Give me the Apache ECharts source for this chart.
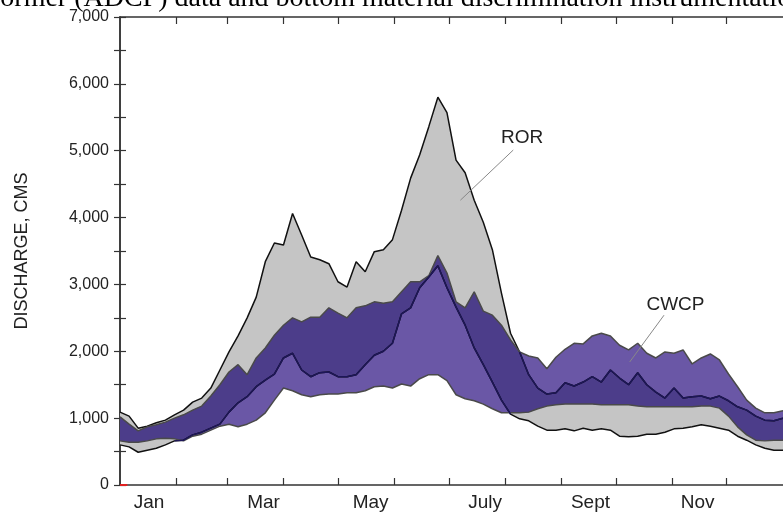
<!DOCTYPE html>
<html>
<head>
<meta charset="utf-8">
<script src="https://cdn.jsdelivr.net/npm/echarts@6/dist/echarts.min.js"></script>
<style>
  html, body { margin: 0; padding: 0; background: #fff; }
  #chart { width: 783px; height: 516px; }
</style>
</head>
<body>
<div id="chart"></div>
<script>
// day of year, every 5 days
const days = [0, 5, 10, 15, 20, 25, 30, 35, 40, 45, 50, 55, 60, 65, 70, 75, 80, 85, 90, 95,
  100, 105, 110, 115, 120, 125, 130, 135, 140, 145, 150, 155, 160, 165, 170, 175, 180, 185, 190, 195,
  200, 205, 210, 215, 220, 225, 230, 235, 240, 245, 250, 255, 260, 265, 270, 275, 280, 285, 290, 295,
  300, 305, 310, 315, 320, 325, 330, 335, 340, 345, 350, 355, 360, 365]

// ROR envelope (cms)
const rorUpper = [1090, 1030, 850, 880, 930, 970, 1050, 1120, 1240, 1300, 1450, 1720, 1990, 2230, 2500, 2810, 3340, 3620, 3590, 4060,
  3740, 3410, 3370, 3310, 3040, 2960, 3340, 3190, 3490, 3520, 3670, 4110, 4590, 4940, 5360, 5800, 5570, 4860, 4670, 4260,
  3930, 3520, 2870, 2270, 1990, 1650, 1450, 1360, 1380, 1530, 1480, 1540, 1620, 1540, 1720, 1600, 1500, 1680, 1500, 1390,
  1300, 1450, 1300, 1320, 1330, 1290, 1330, 1260, 1170, 1120, 1030, 970, 960, 1000]
const rorLower = [600, 570, 490, 520, 550, 600, 660, 670, 750, 790, 850, 910, 1090, 1230, 1320, 1470, 1570, 1660, 1900, 1970,
  1720, 1620, 1680, 1690, 1620, 1620, 1650, 1800, 1940, 2000, 2120, 2560, 2650, 2950, 3110, 3280, 2950, 2660, 2390, 2050,
  1800, 1540, 1270, 1060, 990, 960, 880, 820, 820, 840, 810, 850, 820, 840, 820, 730, 720, 730, 760, 760,
  790, 840, 850, 870, 900, 880, 850, 820, 730, 670, 600, 550, 520, 520]

// CWCP envelope (cms)
const cwcpUpper = [1020, 910, 810, 870, 900, 940, 1000, 1050, 1120, 1180, 1330, 1500, 1690, 1800, 1650, 1900, 2050, 2240, 2390, 2500,
  2440, 2510, 2510, 2650, 2570, 2500, 2650, 2680, 2740, 2720, 2740, 2890, 3040, 3040, 3130, 3430, 3170, 2740, 2650, 2890,
  2600, 2540, 2390, 2170, 1990, 1930, 1900, 1740, 1910, 2030, 2120, 2110, 2230, 2270, 2230, 2090, 2020, 2120, 1970, 1900,
  1990, 1970, 2020, 1810, 1900, 1960, 1870, 1660, 1470, 1270, 1150, 1080, 1080, 1110]
const cwcpLower = [660, 640, 640, 660, 690, 700, 690, 660, 730, 760, 820, 880, 910, 870, 910, 970, 1080, 1270, 1450, 1410,
  1350, 1320, 1350, 1360, 1360, 1380, 1380, 1410, 1470, 1480, 1450, 1510, 1480, 1590, 1650, 1650, 1560, 1350, 1290, 1260,
  1210, 1140, 1080, 1080, 1080, 1090, 1140, 1180, 1200, 1210, 1210, 1210, 1210, 1200, 1200, 1200, 1200, 1180, 1170, 1170,
  1170, 1170, 1170, 1170, 1180, 1180, 1150, 1030, 870, 750, 670, 660, 670, 670]

const monthStarts = [31, 59, 90, 120, 151, 181, 212, 243, 273, 304, 334]
const monthLabels = ['Jan', 'Mar', 'May', 'July', 'Sept', 'Nov']
const monthLabelDays = [16, 79, 138, 201, 259, 318]

const GRAY = '#c5c5c5'
const PURPLE = '#6a57a6'
const PURPLE_DARK = '#4c3d8a'
const NAVY = '#1d1658'

// where the purple band covers the grey one
const overlapLow = rorLower.map((v, i) => Math.max(v, cwcpLower[i]))
const overlapHeight = overlapLow.map((v, i) => Math.max(0, Math.min(rorUpper[i], cwcpUpper[i]) - v))

// ROR lines seen through the purple band turn navy
const throughPurple = arr => {
  const ins = arr.map((v, i) => v > cwcpLower[i] && v < cwcpUpper[i])
  return arr.map((v, i) => (ins[i] || ins[i - 1] || ins[i + 1]) ? v : null)
}

const band = (name, lower, upper, color) => [
  {
    name: name + 'Base', type: 'line', stack: name, data: lower, xAxisIndex: 2,
    symbol: 'none', lineStyle: { opacity: 0 }, silent: true
  },
  {
    name: name, type: 'line', stack: name, data: upper.map((v, i) => v - lower[i]), xAxisIndex: 2,
    symbol: 'none', lineStyle: { opacity: 0 }, areaStyle: { color: color, opacity: 1 }, silent: true
  }
]

const line = (data, color, width) => ({
  type: 'line', data: data, xAxisIndex: 2, symbol: 'none', silent: true,
  lineStyle: { color: color, width: width }
})

const axisColor = '#333'
const chart = echarts.init(document.getElementById('chart'))
chart.setOption({
  animation: false,
  title: {
    text: 'former (ADCP) data and bottom material discrimination instrumentation',
    left: -9,
    top: -15,
    padding: 0,
    textStyle: { fontFamily: 'Liberation Serif', fontSize: 28, fontWeight: 'normal', color: '#000' }
  },
  grid: { left: 120, right: -3, top: 17, bottom: 31 },
  xAxis: [
    {
      type: 'value', min: 0, max: 365, position: 'bottom',
      axisLine: { onZero: false, lineStyle: { color: axisColor, width: 1.5 } },
      axisTick: { inside: true, length: 7, customValues: monthStarts, lineStyle: { color: axisColor, width: 1.2 } },
      axisLabel: {
        customValues: monthLabelDays,
        formatter: v => monthLabels[monthLabelDays.indexOf(v)] || '',
        fontFamily: 'Liberation Sans', fontSize: 19, color: '#222', margin: 8
      },
      splitLine: { show: false }
    },
    {
      type: 'value', min: 0, max: 365, position: 'top',
      axisLine: { onZero: false, lineStyle: { color: axisColor, width: 1.5 } },
      axisTick: { inside: true, length: 7, customValues: monthStarts, lineStyle: { color: axisColor, width: 1.2 } },
      axisLabel: { show: false },
      splitLine: { show: false }
    },
    { type: 'category', data: days, boundaryGap: false, show: false }
  ],
  yAxis: [
    {
      type: 'value', min: 0, max: 7000, interval: 500, position: 'left',
      name: 'DISCHARGE, CMS', nameLocation: 'middle', nameGap: 89,
      nameTextStyle: { fontFamily: 'Liberation Sans', fontSize: 18, color: '#222' },
      axisLine: { show: true, lineStyle: { color: axisColor, width: 1.5 } },
      axisTick: { inside: true, length: 6, lineStyle: { color: axisColor, width: 1.2 } },
      axisLabel: {
        formatter: v => v % 1000 === 0 ? v.toLocaleString('en-US') : '',
        fontFamily: 'Liberation Sans', fontSize: 16, color: '#222', margin: 11
      },
      splitLine: { show: false }
    },
    {
      type: 'value', min: 0, max: 7000, interval: 500, position: 'right',
      axisLine: { show: true, lineStyle: { color: axisColor, width: 1.5 } },
      axisTick: { inside: true, length: 6, lineStyle: { color: axisColor, width: 1.2 } },
      axisLabel: { show: false },
      splitLine: { show: false }
    }
  ],
  series: [
    ...band('ROR', rorLower, rorUpper, GRAY),
    line(rorUpper, '#111', 1.5),
    line(rorLower, '#111', 1.5),
    ...band('CWCP', cwcpLower, cwcpUpper, PURPLE),
    ...band('overlap', overlapLow, overlapLow.map((v, i) => v + overlapHeight[i]), PURPLE_DARK),
    line(cwcpUpper, '#4a4a4a', 1.5),
    line(cwcpLower, '#4a4a4a', 1.5),
    line(throughPurple(rorUpper), NAVY, 1.5),
    line(throughPurple(rorLower), NAVY, 1.5),
    {
      type: 'line', data: [], xAxisIndex: 0, yAxisIndex: 0, silent: true,
      markLine: {
        symbol: 'none', silent: true, animation: false,
        label: { show: false },
        data: [
          [{ coord: [216.5, 5010], lineStyle: { color: '#888', width: 1, type: 'solid' } }, { coord: [187.4, 4260] }],
          [{ coord: [299.5, 2540], lineStyle: { color: '#888', width: 1, type: 'solid' } }, { coord: [280.6, 1840] }],
          [{ coord: [0, 0], lineStyle: { color: '#e02020', width: 2, type: 'solid' } }, { coord: [4, 0] }]
        ]
      },
      markPoint: {
        symbol: 'circle', symbolSize: 0, silent: true, animation: false,
        label: { show: true, position: 'inside', fontFamily: 'Liberation Sans', fontSize: 19, color: '#222', formatter: p => p.name },
        data: [
          { name: 'ROR', coord: [221.4, 5190] },
          { name: 'CWCP', coord: [305.8, 2690] }
        ]
      }
    }
  ]
})
</script>
</body>
</html>
